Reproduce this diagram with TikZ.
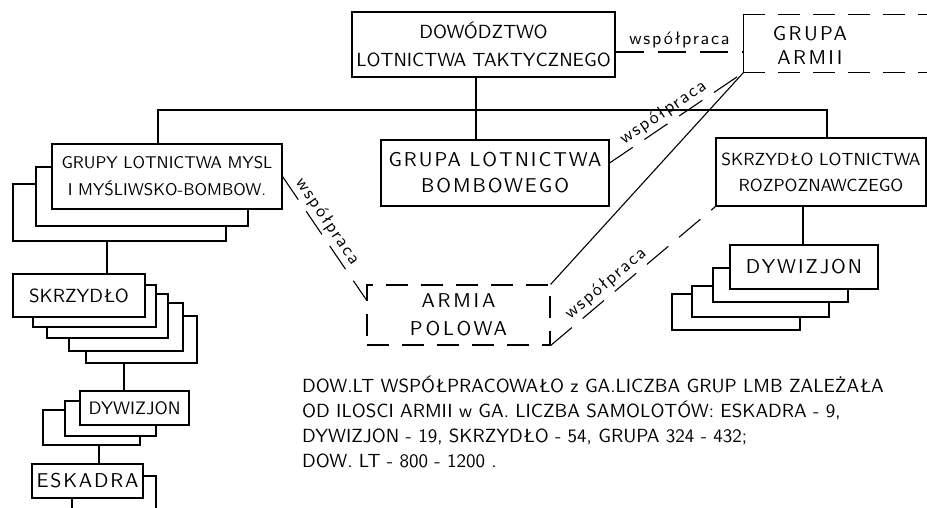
\documentclass[tikz,border=0pt]{standalone}
\usepackage{fontspec}
\setsansfont{lmsans10-regular.otf}
\newcommand{\boxn}[7]{\node[#1, minimum width={#4-#2}, minimum height={#5-#3}] (#6) at ({(#2+#4)/2},{(#3+#5)/2}) {#7};}
\newcommand{\ls}[1]{\addfontfeature{LetterSpace=#1}}
\begin{document}
\begin{tikzpicture}[x=1pt,y=-1pt,
  every node/.style={font=\sffamily},
  box/.style={draw, line width=1.1pt, fill=white, rectangle, inner sep=0pt, align=center, font=\sffamily\fontsize{20}{26}\selectfont},
  dbox/.style={box, fill=none, dash pattern=on 22pt off 13pt},
  conn/.style={line width=1.1pt},
  dpat/.style={line width=1.1pt, dash pattern=on 22pt off 13pt},
  dconn/.style={line width=1.1pt, dash pattern=on 28pt off 14pt},
  lbl/.style={font=\sffamily\fontsize{18}{18}\selectfont\ls{10}, sloped, above, inner sep=3pt},
  txt/.style={font=\sffamily\fontsize{20}{24}\selectfont, align=center, inner sep=0pt}
]
\useasboundingbox (0,0) rectangle (927,507);

\boxn{box, font=\sffamily\fontsize{19}{28}\selectfont}{352}{12}{615}{77}{dow}{DOWÓDZTWO\\LOTNICTWA TAKTYCZNEGO}
\boxn{box, draw=none, fill=none}{744}{15}{940}{72}{ga}{}
\draw[dpat] (ga.north west) -- (ga.north east);
\draw[conn] (ga.north west) -- (ga.south west);
\draw[dpat] (ga.south west) -- (ga.south east);
\node[txt, font=\sffamily\fontsize{20}{24}\selectfont\ls{12}] (gatext) at (810,45) {GRUPA\\ARMII};
\boxn{box, font=\sffamily\fontsize{20}{26}\selectfont\ls{10}}{381}{140}{609}{206}{bomb}{GRUPA LOTNICTWA\\BOMBOWEGO}
\boxn{box, font=\sffamily\fontsize{17.5}{26}\selectfont}{716}{138}{926}{206}{skrr}{SKRZYDŁO LOTNICTWA\\ROZPOZNAWCZEGO}
\boxn{dbox, font=\sffamily\fontsize{20}{28}\selectfont\ls{14}}{367}{285}{550}{345}{armia}{ARMIA\\POLOWA}

% left group stack
\boxn{box}{13}{184}{226}{241}{g3}{}
\boxn{box}{36}{167}{248}{226}{g2}{}
\boxn{box, font=\sffamily\fontsize{17}{27}\selectfont}{52}{144}{282}{209}{grupy}{GRUPY LOTNICTWA MYSL\\I MYŚLIWSKO-BOMBOW.}

% skrzydlo stack
\boxn{box}{86}{316}{197}{363}{s5}{}
\boxn{box}{69}{303}{183}{351}{s4}{}
\boxn{box}{47}{294}{168}{338}{s3}{}
\boxn{box}{33}{285}{156}{327}{s2}{}
\boxn{box, font=\sffamily\fontsize{19}{26}\selectfont}{13}{274}{145}{317}{s1}{SKRZYDŁO}

% dywizjon left stack
\boxn{box}{43}{410}{140}{445}{d3}{}
\boxn{box}{65}{401}{156}{436}{d2}{}
\boxn{box, font=\sffamily\fontsize{18}{26}\selectfont}{80}{391}{189}{425}{d1}{DYWIZJON}

% eskadra
\boxn{box}{72}{476}{156}{530}{e2}{}
\boxn{box, font=\sffamily\fontsize{20}{26}\selectfont\ls{9}}{32}{464}{143}{498}{e1}{ESKADRA}

% dywizjon right stack
\boxn{box}{672}{294}{800}{330}{r4}{}
\boxn{box}{692}{286}{829}{317}{r3}{}
\boxn{box}{713}{268}{848}{302}{r2}{}
\boxn{box, font=\sffamily\fontsize{20}{26}\selectfont\ls{10}}{730}{245}{878}{289}{r1}{DYWIZJON}

% tree connectors
\draw[conn] (grupy.north -| 158,0) |- (827,110) -- (skrr.north -| 827,0);
\draw[conn] (dow.south -| 476,0) -- (bomb.north -| 476,0);
\draw[conn] (g3.south -| 107,0) -- (s1.north -| 107,0);
\draw[conn] (s5.south -| 124,0) -- (d1.north -| 124,0);
\draw[conn] (d3.south -| 99,0) -- (e1.north -| 99,0);
\draw[conn] (skrr.south -| 803,0) -- (r1.north -| 803,0);

% cooperation links
\draw[dconn] (dow.east |- 0,52) -- node[lbl, sloped=false] {współpraca} (ga.west |- 0,52);
\draw[dconn] (bomb.east |- 0,163) -- node[lbl, pos=0.45] {współpraca} (ga.south west);
\draw[conn] (ga.south west) -- (armia.north east);
\draw[dconn] (grupy.east) -- node[lbl, pos=0.42] {współpraca} (armia.west |- 0,300);
\draw[dconn] (armia.south east) -- node[lbl, pos=0.38] {współpraca} (skrr.south west);

% note
\node[anchor=north west, align=left, inner sep=0pt, font=\sffamily\fontsize{19}{25}\selectfont] (note) at (302,376)
 {DOW.LT WSPÓŁPRACOWAŁO z GA.LICZBA GRUP LMB ZALEŻAŁA\\
  OD ILOSCI ARMII w GA. LICZBA SAMOLOTÓW: ESKADRA - 9,\\
  DYWIZJON - 19, SKRZYDŁO - 54, GRUPA 324 - 432;\\
  DOW. LT - 800 - 1200 .};
\end{tikzpicture}
\end{document}
